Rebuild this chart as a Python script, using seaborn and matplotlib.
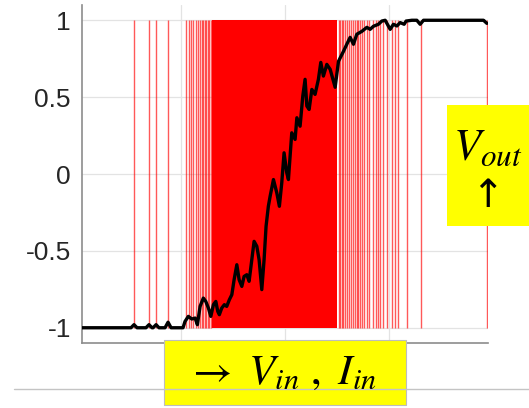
# spike_transfer.py
'''Noisy transfer curve over a train of red switching events'''

import matplotlib.pyplot as plt
from matplotlib.patches import Rectangle
from matplotlib.lines import Line2D
import seaborn as sns

# black averaged output curve (x, y)
curve_x = [0.048, 0.519, 0.548, 0.577, 0.663, 0.692, 0.721, 0.731, 0.760, 0.788,
           0.846, 0.875, 0.904, 1.019, 1.038, 1.070, 1.103, 1.135, 1.157, 1.183,
           1.214, 1.238, 1.263, 1.286, 1.311, 1.334, 1.353, 1.368, 1.391, 1.416,
           1.439, 1.464, 1.488, 1.510, 1.536, 1.558, 1.584, 1.606, 1.632, 1.654,
           1.680, 1.702, 1.728, 1.750, 1.776, 1.798, 1.817, 1.839, 1.856, 1.888,
           1.920, 1.945, 1.968, 1.990, 2.016, 2.032, 2.048, 2.064, 2.096, 2.113,
           2.144, 2.170, 2.192, 2.209, 2.231, 2.257, 2.288, 2.320, 2.343, 2.368,
           2.401, 2.433, 2.481, 2.513, 2.561, 2.593, 2.625, 2.657, 2.689, 2.738,
           2.786, 2.817, 2.849, 2.897, 2.930, 2.962, 3.010, 3.041, 3.074, 3.106,
           3.144, 3.163, 3.218, 3.266, 3.298, 3.330, 3.907, 3.939]
curve_y = [-1.0, -1.0, -0.98, -1.0, -1.0, -0.98, -1.0, -1.0, -0.98, -1.0,
           -1.0, -0.964, -1.0, -1.0, -0.959, -0.926, -0.943, -0.937, -0.98, -0.861,
           -0.807, -0.829, -0.872, -0.926, -0.85, -0.829, -0.894, -0.915, -0.872, -0.85,
           -0.861, -0.818, -0.785, -0.687, -0.59, -0.687, -0.731, -0.666, -0.655, -0.698,
           -0.557, -0.438, -0.47, -0.557, -0.752, -0.557, -0.34, -0.21, -0.145, -0.036,
           -0.122, -0.21, -0.057, 0.138, 0.008, -0.036, 0.116, 0.268, 0.225, 0.366,
           0.311, 0.507, 0.616, 0.442, 0.42, 0.55, 0.518, 0.616, 0.726, 0.637,
           0.713, 0.681, 0.564, 0.733, 0.798, 0.844, 0.889, 0.844, 0.909, 0.928,
           0.954, 0.941, 0.961, 0.974, 0.995, 1.0, 0.941, 0.974, 0.963, 0.985,
           0.974, 0.995, 1.0, 1.0, 0.974, 1.0, 1.0, 0.98]

# red switching events (individual lines) and the saturated block between them
spike_x = [0.548, 0.692, 0.757, 0.878,
           1.045, 1.074, 1.091, 1.113, 1.141, 1.159, 1.183, 1.197, 1.212, 1.226,
           1.240, 1.255, 1.269, 1.284,
           2.514, 2.529, 2.543, 2.561, 2.577, 2.593, 2.611, 2.632, 2.649, 2.673,
           2.688, 2.705, 2.721, 2.738, 2.760, 2.786, 2.808, 2.843, 2.875, 2.894,
           2.913, 2.942, 2.981, 3.026, 3.058, 3.087, 3.173, 3.305, 3.939]
dense_start = 1.298
dense_end = 2.500
spike_low, spike_high = -1.0, 1.0

y_ticks = [-1, -0.5, 0, 0.5, 1]
y_labels = ['-1', '-0.5', '0', '0.5', '1']
x_ticks = [1, 2, 3]

sns.set_style('whitegrid')
plt.rcParams['font.family'] = ['Liberation Sans', 'DejaVu Sans']
plt.rcParams['mathtext.fontset'] = 'stix'

fig = plt.figure(figsize=(5.29, 4.08), dpi=100)
ax = fig.add_axes([0.155, 0.159, 0.7675, 0.829])

# red events
ax.vlines(spike_x, spike_low, spike_high, color='red', alpha=0.65, lw=1.0, zorder=2)
ax.fill_between([dense_start, dense_end], spike_low, spike_high,
                color='red', lw=0, zorder=2)

# black curve
sns.lineplot(x=curve_x, y=curve_y, color='black', lw=2.4, ax=ax, zorder=3, sort=False)

ax.set_xlim(0.048, 3.95)
ax.set_ylim(-1.1, 1.1)
ax.set_yticks(y_ticks)
ax.set_yticklabels(y_labels)
ax.set_xticks(x_ticks)
ax.set_xticklabels([])
ax.grid(True, color='#e3e3e3', lw=0.9)
ax.set_axisbelow(True)
ax.tick_params(axis='y', direction='in', length=4, labelsize=19, pad=8,
               colors='#8c8c8c', labelcolor='#262626')
ax.tick_params(axis='x', direction='in', length=4, colors='#8c8c8c')
for side in ['top', 'right']:
    ax.spines[side].set_visible(False)
for side in ['left', 'bottom']:
    ax.spines[side].set_color('#8c8c8c')
    ax.spines[side].set_linewidth(1.2)

# thin rule under the plot
fig.add_artist(Line2D([0.026, 1.0], [0.0466, 0.0466], color='#c4c4c4', lw=1.0,
                      transform=fig.transFigure))

# yellow label boxes
fig.add_artist(Rectangle((0.310, 0.0074), 0.4575, 0.159, transform=fig.transFigure,
                         facecolor='yellow', edgecolor='#bdbdbd', lw=0.8))
fig.text(0.532, 0.085, r'$\rightarrow\ V_{in}\ ,\ I_{in}$', fontsize=31,
         ha='center', va='center', color='black')

fig.add_artist(Rectangle((0.845, 0.446), 0.16, 0.2966, transform=fig.transFigure,
                         facecolor='yellow', edgecolor='none'))
fig.text(0.922, 0.635, r'$V_{out}$', fontsize=32, ha='center', va='center',
         color='black')
fig.text(0.922, 0.52, '\u2191', fontsize=28, ha='center', va='center',
         color='black', family=['DejaVu Sans'])

fig.savefig('out.png', dpi=100)
